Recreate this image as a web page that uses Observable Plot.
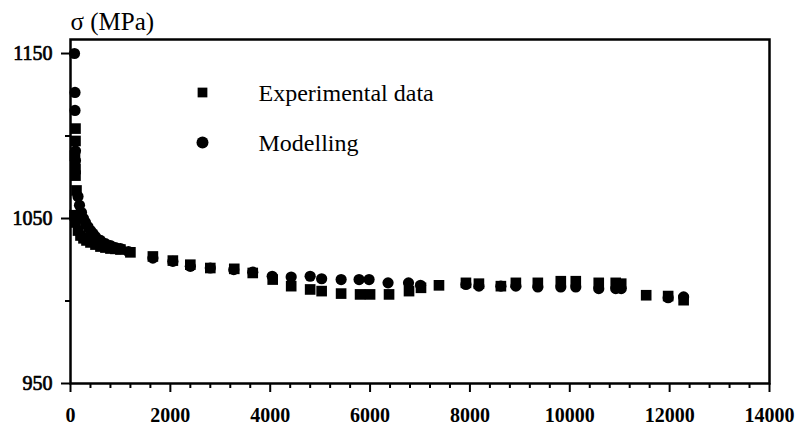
<!DOCTYPE html>
<html><head><meta charset="utf-8">
<script src="https://cdn.jsdelivr.net/npm/d3@7"></script>
<script src="https://cdn.jsdelivr.net/npm/@observablehq/plot@0.6"></script>
<style>body{margin:0;background:#fff}</style>
</head><body><div id="chart"></div>
<script>
// Experimental data (time, sigma MPa)
const expTime = [100,100,90,100,100,120,80,100,150,200,260,320,400,500,600,700,800,900,1000,
  1200,1650,2050,2400,2800,3280,3650,4050,4420,4800,5030,5420,5800,6000,6380,6780,7020,7380,7920,8180,8620,8920,9360,9820,10120,10580,10920,11030,11530,11970,12280];
const expStress = [1104.5,1097,1088,1080,1076,1067,1052,1047.6,1042.7,1039.7,1038,1036.7,1035.5,1034.2,1033,1032.4,1031.8,1031.6,1031.2,
  1029.5,1027,1024.5,1022,1020,1019.5,1017,1013,1009,1007,1006,1004.5,1004,1004,1004,1006,1008,1009.5,1011,1010.5,1009,1011,1011,1012,1012,1011,1011,1010.5,1003.5,1003,1000.5];
// Modelling
const modTime = [80,90,90,100,100,150,180,220,260,300,350,400,450,500,600,700,800,900,1000,
  1160,1650,2050,2400,2800,3270,3650,4040,4420,4800,5030,5420,5780,5980,6360,6770,7010,7920,8180,8620,8920,9360,9820,10120,10580,10920,11030,11970,12280];
const modStress = [1150,1126.4,1115.5,1091,1085,1063.3,1058,1053.6,1050,1047.6,1045,1042.7,1041,1039,1036.7,1034.8,1033.6,1032.4,1031.8,
  1030,1026,1024,1021,1020,1019,1017.5,1015,1014.5,1015,1013.5,1013,1013,1013,1011,1011,1009.5,1010,1009,1009,1009,1008.5,1008.5,1008.5,1007.5,1007.5,1007.5,1002,1002.5];

const xTicks = [0,2000,4000,6000,8000,10000,12000,14000];
const xTickLabels = ["0","2000","4000","6000","8000","10000","12000","14000"];
const yTicks = [950,1050,1150];
const yTickLabels = ["950","1050","1150"];
const xMinor = d3.range(400, 14000, 400).filter(v => v % 2000 !== 0);
const yMinor = [1000,1100];
const seriesNames = ["Experimental data","Modelling"];
const yTitle = "σ (MPa)";

const expData = expTime.map((t,i)=>({t, s: expStress[i]}));
const modData = modTime.map((t,i)=>({t, s: modStress[i]}));
const font = "Liberation Serif";

const chart = Plot.plot({
  width: 796, height: 436,
  marginLeft: 70, marginRight: 27, marginTop: 39, marginBottom: 53,
  x: {domain: [0, 14000], label: null},
  y: {domain: [950, 1158.5], label: null},
  style: {fontFamily: font, background: "#fff", color: "#000"},
  marks: [
    Plot.axisX(xMinor, {tickSize: 5, strokeWidth: 2, tickFormat: () => "", label: null}),
    Plot.axisX(xTicks, {tickSize: 9, strokeWidth: 2, tickFormat: () => "", label: null}),
    Plot.axisY(yMinor, {tickSize: 5, strokeWidth: 2, tickFormat: () => "", label: null}),
    Plot.axisY(yTicks, {tickSize: 9, strokeWidth: 2, tickFormat: () => "", label: null}),
    Plot.text(xTicks, {x: d => d, text: (d, i) => xTickLabels[i], frameAnchor: "bottom", lineAnchor: "top", dy: 24,
      fontSize: 20, fontWeight: "bold", fontFamily: font, fill: "#000"}),
    Plot.text(yTicks, {y: d => d, text: (d, i) => yTickLabels[i], frameAnchor: "left", textAnchor: "end", lineAnchor: "middle", dx: -18,
      fontSize: 20, fontFamily: font, fill: "#000", stroke: "#000", strokeWidth: 0.7}),
    Plot.frame({stroke: "#000", strokeWidth: 2.5}),
    Plot.dot(expData, {x: "t", y: "s", symbol: "square", r: 6, fill: "#000", stroke: "none"}),
    Plot.dot(modData, {x: "t", y: "s", symbol: "circle", r: 5.6, fill: "#000", stroke: "none"}),
    Plot.text([yTitle], {text: d => d, frameAnchor: "top-left", dx: 0, dy: -18, lineAnchor: "middle", textAnchor: "start", fontSize: 25, fontFamily: font}),
    Plot.dot([seriesNames[0]], {frameAnchor: "top-left", dx: 132, dy: 53, symbol: "square", r: 5.5, fill: "#000", stroke: "none"}),
    Plot.dot([seriesNames[1]], {frameAnchor: "top-left", dx: 132, dy: 103, symbol: "circle", r: 6, fill: "#000", stroke: "none"}),
    Plot.text([seriesNames[0]], {text: d => d, frameAnchor: "top-left", dx: 188, dy: 54, lineAnchor: "middle", textAnchor: "start", fontSize: 24, fontFamily: font}),
    Plot.text([seriesNames[1]], {text: d => d, frameAnchor: "top-left", dx: 188, dy: 104, lineAnchor: "middle", textAnchor: "start", fontSize: 24, fontFamily: font})
  ]
});
document.getElementById("chart").appendChild(chart);
</script>
</body></html>
